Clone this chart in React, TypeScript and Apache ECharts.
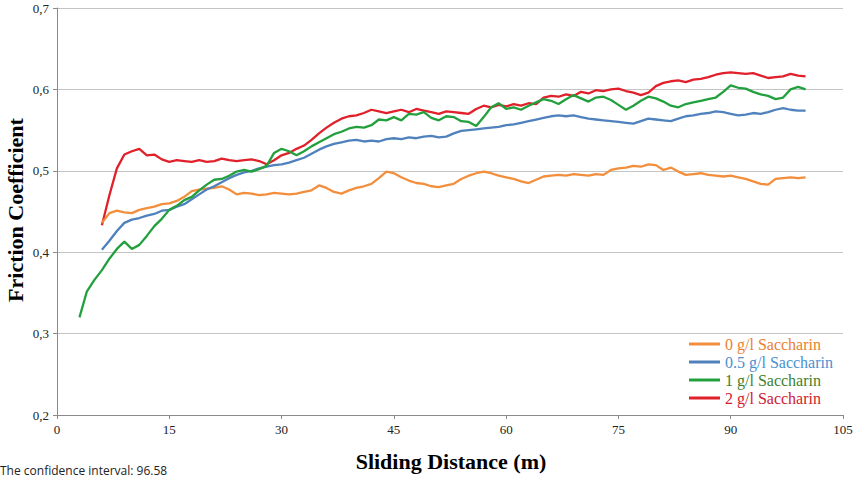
import React, { useEffect, useRef } from 'react';
import * as echarts from 'echarts';

// sliding distance (m), one reading per metre
const distance = [
  3, 4, 5, 6, 7, 8, 9, 10, 11, 12, 13, 14, 15, 16, 17, 18, 19, 20, 21, 22, 23, 24, 25, 26, 27, 28, 29, 30,
  31, 32, 33, 34, 35, 36, 37, 38, 39, 40, 41, 42, 43, 44, 45, 46, 47, 48, 49, 50, 51, 52, 53, 54, 55, 56,
  57, 58, 59, 60, 61, 62, 63, 64, 65, 66, 67, 68, 69, 70, 71, 72, 73, 74, 75, 76, 77, 78, 79, 80, 81, 82,
  83, 84, 85, 86, 87, 88, 89, 90, 91, 92, 93, 94, 95, 96, 97, 98, 99, 100,
];

const seriesNames = ['0 g/l Saccharin', '0.5 g/l Saccharin', '1 g/l Saccharin', '2 g/l Saccharin'];

// 0 g/l, starts at 6 m
const saccharin0 = [
  null, null, null,
  0.436, 0.448, 0.451, 0.449, 0.448, 0.452, 0.454, 0.456, 0.459, 0.46, 0.463, 0.468, 0.475, 0.477, 0.478,
  0.479, 0.481, 0.477, 0.471, 0.473, 0.472, 0.47, 0.471, 0.473, 0.472, 0.471, 0.472, 0.474, 0.476, 0.482,
  0.479, 0.474, 0.472, 0.476, 0.479, 0.481, 0.484, 0.491, 0.499, 0.497, 0.492, 0.488, 0.485, 0.484, 0.481,
  0.48, 0.482, 0.484, 0.49, 0.494, 0.497, 0.499, 0.497, 0.494, 0.492, 0.49, 0.487, 0.485, 0.489, 0.493,
  0.494, 0.495, 0.494, 0.496, 0.495, 0.494, 0.496, 0.495, 0.501, 0.503, 0.504, 0.506, 0.505, 0.508, 0.507,
  0.501, 0.504, 0.499, 0.495, 0.496, 0.497, 0.495, 0.494, 0.493, 0.494, 0.492, 0.49, 0.487, 0.484, 0.483,
  0.49, 0.491, 0.492, 0.491, 0.492,
];

// 0.5 g/l, starts at 6 m
const saccharin05 = [
  null, null, null,
  0.403, 0.414, 0.426, 0.436, 0.44, 0.442, 0.445, 0.447, 0.451, 0.452, 0.456, 0.459, 0.465, 0.471, 0.477,
  0.481, 0.486, 0.491, 0.495, 0.498, 0.5, 0.503, 0.505, 0.507, 0.508, 0.51, 0.513, 0.516, 0.521, 0.526,
  0.53, 0.533, 0.535, 0.537, 0.538, 0.536, 0.537, 0.536, 0.539, 0.54, 0.539, 0.541, 0.54, 0.542, 0.543,
  0.541, 0.542, 0.546, 0.549, 0.55, 0.551, 0.552, 0.553, 0.554, 0.556, 0.557, 0.559, 0.561, 0.563, 0.565,
  0.567, 0.568, 0.567, 0.568, 0.566, 0.564, 0.563, 0.562, 0.561, 0.56, 0.559, 0.558, 0.561, 0.564, 0.563,
  0.562, 0.561, 0.564, 0.567, 0.568, 0.57, 0.571, 0.573, 0.572, 0.57, 0.568, 0.569, 0.571, 0.57, 0.572,
  0.575, 0.577, 0.575, 0.574, 0.574,
];

// 1 g/l, starts at 3 m
const saccharin1 = [
  0.32, 0.352, 0.366, 0.378, 0.392, 0.404, 0.413, 0.404, 0.409, 0.42, 0.432, 0.441, 0.452, 0.457, 0.464,
  0.468, 0.476, 0.483, 0.489, 0.49, 0.494, 0.499, 0.501, 0.499, 0.502, 0.506, 0.522, 0.527, 0.524, 0.519,
  0.524, 0.53, 0.535, 0.54, 0.545, 0.548, 0.552, 0.554, 0.553, 0.556, 0.563, 0.562, 0.566, 0.562, 0.57,
  0.569, 0.572, 0.565, 0.562, 0.567, 0.566, 0.561, 0.56, 0.555, 0.566, 0.578, 0.583, 0.576, 0.578, 0.575,
  0.58, 0.584, 0.588, 0.586, 0.582, 0.588, 0.593, 0.589, 0.585, 0.59, 0.591, 0.587, 0.581, 0.575, 0.58,
  0.586, 0.591, 0.589, 0.585, 0.58, 0.578, 0.582, 0.584, 0.586, 0.588, 0.59, 0.597, 0.605, 0.602, 0.601,
  0.597, 0.594, 0.592, 0.588, 0.59, 0.6, 0.603, 0.6,
];

// 2 g/l, starts at 6 m
const saccharin2 = [
  null, null, null,
  0.433, 0.47, 0.503, 0.52, 0.524, 0.527, 0.519, 0.52, 0.514, 0.511, 0.513, 0.512, 0.511, 0.513, 0.511,
  0.512, 0.515, 0.513, 0.512, 0.513, 0.514, 0.512, 0.508, 0.513, 0.519, 0.522, 0.527, 0.531, 0.538, 0.546,
  0.553, 0.559, 0.564, 0.567, 0.568, 0.571, 0.575, 0.573, 0.571, 0.573, 0.575, 0.572, 0.576, 0.574, 0.572,
  0.57, 0.573, 0.572, 0.571, 0.57, 0.576, 0.58, 0.578, 0.581, 0.579, 0.582, 0.58, 0.583, 0.582, 0.59,
  0.592, 0.591, 0.594, 0.592, 0.597, 0.595, 0.599, 0.598, 0.6, 0.601, 0.598, 0.596, 0.593, 0.596, 0.604,
  0.608, 0.61, 0.611, 0.609, 0.612, 0.613, 0.615, 0.618, 0.62, 0.621, 0.62, 0.619, 0.62, 0.617, 0.614,
  0.615, 0.616, 0.619, 0.617, 0.616,
];

const lineColors = ['#F28E3C', '#4F81BD', '#23A03E', '#E0202A'];
const textColors = ['#EA7F30', '#4A90D0', '#3F7F2A', '#D0202E'];

const serif = '"Liberation Serif", "Times New Roman", serif';

const App = () => {
  const chartRef = useRef<HTMLDivElement>(null);

  useEffect(() => {
    document.body.style.margin = '0';
    if (!chartRef.current) return;
    const chart = echarts.init(chartRef.current, null, { renderer: 'svg' });

    const allValues = [saccharin0, saccharin05, saccharin1, saccharin2];

    const option: echarts.EChartsOption = {
      animation: false,
      backgroundColor: '#fff',
      grid: { left: 57, right: 16, top: 8, bottom: 63 },
      legend: {
        orient: 'vertical',
        left: 684,
        top: 331,
        icon: 'rect',
        itemWidth: 31,
        itemHeight: 3,
        itemGap: 2,
        textStyle: { fontFamily: serif, fontSize: 16, lineHeight: 16 },
        data: seriesNames.map((name, i) => ({ name, textStyle: { color: textColors[i] } })),
      },
      xAxis: {
        type: 'value',
        min: 0,
        max: 105,
        interval: 15,
        axisLine: { lineStyle: { color: '#8a8a8a' } },
        axisTick: { show: true, length: 4, lineStyle: { color: '#8a8a8a' } },
        axisLabel: { fontFamily: serif, fontSize: 13, color: '#222', margin: 8 },
        splitLine: { show: false },
      },
      yAxis: {
        type: 'value',
        min: 0.2,
        max: 0.7,
        interval: 0.1,
        axisLine: { show: true, lineStyle: { color: '#8a8a8a' } },
        axisTick: { show: true, length: 4, lineStyle: { color: '#8a8a8a' } },
        axisLabel: {
          fontFamily: serif,
          fontSize: 13,
          color: '#222',
          margin: 8,
          formatter: (v: number) => v.toFixed(1).replace('.', ','),
        },
        splitLine: { lineStyle: { color: '#c4c4c4', width: 1 } },
      },
      graphic: [
        {
          type: 'text',
          x: 15,
          y: 210,
          rotation: Math.PI / 2,
          style: {
            text: 'Friction Coefficient',
            font: `bold 22px ${serif}`,
            fill: '#000',
            align: 'center',
            verticalAlign: 'middle',
          },
        },
        {
          type: 'text',
          x: 451,
          y: 461,
          style: {
            text: 'Sliding Distance (m)',
            font: `bold 22px ${serif}`,
            fill: '#000',
            align: 'center',
            verticalAlign: 'middle',
          },
        },
        {
          type: 'text',
          x: 0,
          y: 470,
          style: {
            text: 'The confidence interval: 96.58',
            font: '12px "Open Sans", sans-serif',
            fill: '#222',
            align: 'left',
            verticalAlign: 'middle',
          },
        },
      ],
      series: seriesNames.map((name, i) => ({
        name,
        type: 'line',
        showSymbol: false,
        color: lineColors[i],
        lineStyle: { width: 2.3, color: lineColors[i] },
        z: i === 3 ? 1 : 2 + i,
        data: distance.map((d, k) => [d, allValues[i][k]]),
      })),
    };

    chart.setOption(option);
    return () => chart.dispose();
  }, []);

  return <div ref={chartRef} style={{ width: 859, height: 478 }} />;
};

export default App;
